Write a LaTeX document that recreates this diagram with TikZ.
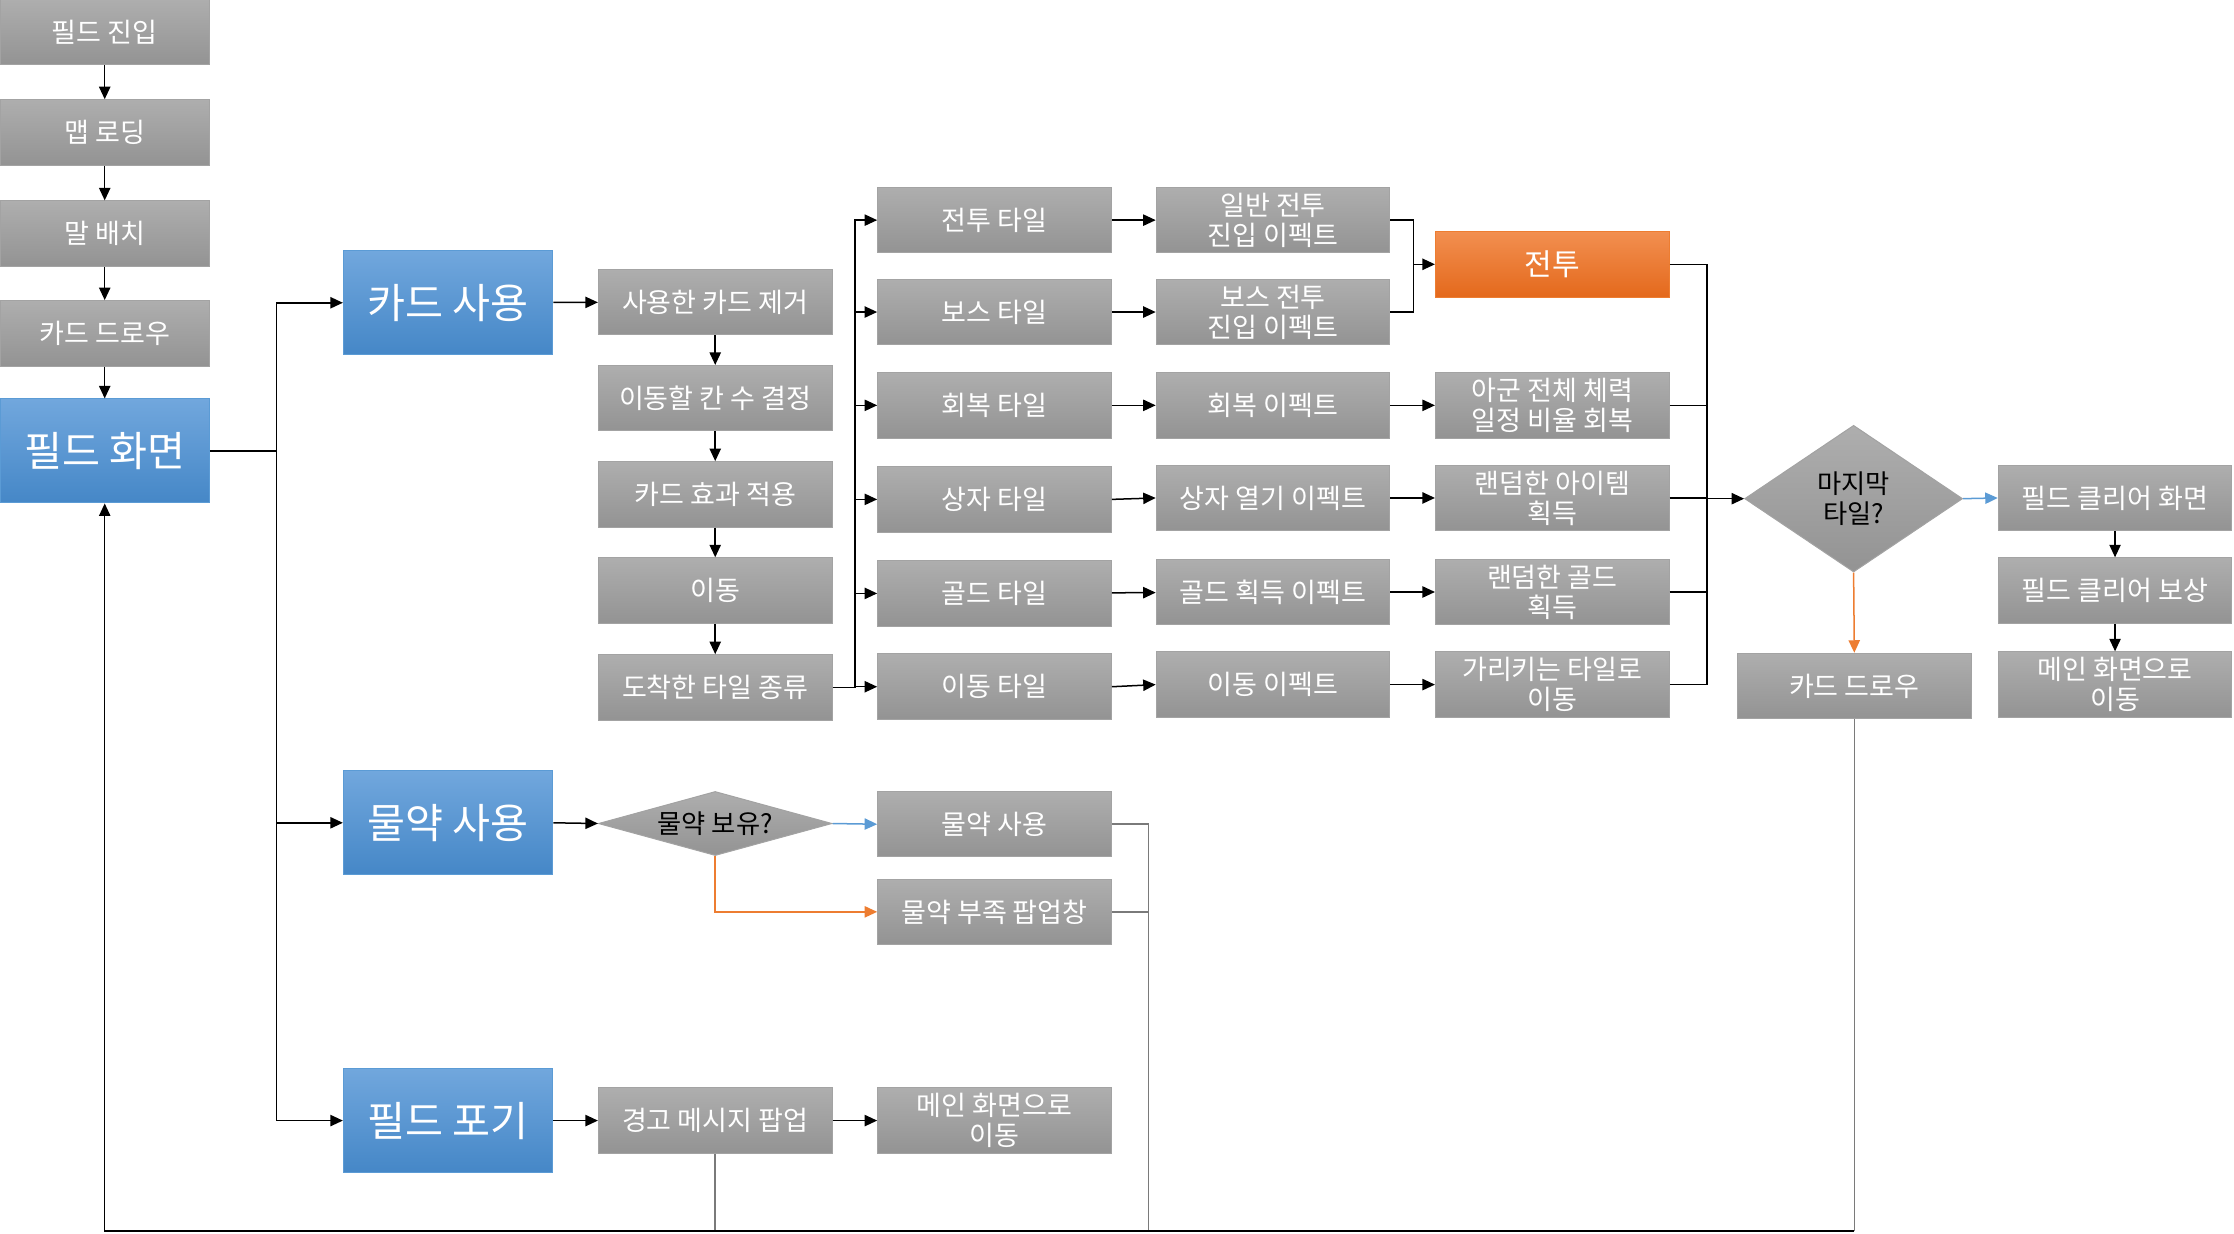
\documentclass[tikz,border=0pt]{standalone}
\usepackage{fontspec}
\newfontfamily\kr{Noto Sans CJK KR}
\usetikzlibrary{arrows.meta,shapes.geometric}
\definecolor{boxtop}{HTML}{AEAEAE}
\definecolor{boxbot}{HTML}{939393}
\definecolor{boxline}{HTML}{A3A3A3}
\definecolor{bluetop}{HTML}{71A7DD}
\definecolor{bluebot}{HTML}{4587C7}
\definecolor{blueline}{HTML}{5B9BD5}
\definecolor{orangetop}{HTML}{F28F50}
\definecolor{orangebot}{HTML}{E4691C}
\definecolor{orangeline}{HTML}{ED7D31}
\definecolor{backline}{HTML}{7A7A7A}
\tikzset{
	gbox/.style={rectangle, draw=boxline, top color=boxtop, bottom color=boxbot, text=white,
		minimum width=3.28cm, minimum height=0.92cm, inner sep=1pt, align=center,
		font=\kr\fontsize{10.8}{12}\selectfont},
	lbox/.style={gbox, minimum width=2.94cm},
	bbox/.style={gbox, draw=blueline, top color=bluetop, bottom color=bluebot,
		minimum width=2.94cm, minimum height=1.46cm, font=\kr\fontsize{16.5}{19}\selectfont},
	obox/.style={gbox, draw=orangeline, top color=orangetop, bottom color=orangebot,
		font=\kr\fontsize{12}{14}\selectfont},
	ask/.style={diamond, draw=boxline, top color=boxtop, bottom color=boxbot, text=black,
		inner sep=0pt, align=center, font=\kr\fontsize{10.5}{12}\selectfont},
	arr/.style={-{Triangle[length=5pt,width=4.5pt]}},
	link/.style={line width=0.6pt},
}
\begin{document}
\begin{tikzpicture}[x=0.02cm, y=-0.02cm]
	\useasboundingbox (0,0) rectangle (1568,866);
	% start column
	\node[lbox] (entry) at (73.5,22.5) {필드 진입};
	\node[lbox] (load) at (73.5,93) {맵 로딩};
	\node[lbox] (place) at (73.5,164) {말 배치};
	\node[lbox] (drawA) at (73.5,234) {카드 드로우};
	\node[bbox] (field) at (73.5,316.5) {필드 화면};
	% actions
	\node[bbox] (card) at (314.5,212.5) {카드 사용};
	\node[bbox] (potion) at (314.5,577.5) {물약 사용};
	\node[bbox] (giveup) at (314.5,786.5) {필드 포기};
	% card steps
	\node[gbox] (remove) at (502,212) {사용한 카드 제거};
	\node[gbox] (decide) at (502,279.5) {이동할 칸 수 결정};
	\node[gbox] (apply) at (502,347) {카드 효과 적용};
	\node[gbox] (move) at (502,414.5) {이동};
	\node[gbox] (arrive) at (502,482.5) {도착한 타일 종류};
	% tiles
	\node[gbox] (battleT) at (698,154.5) {전투 타일};
	\node[gbox] (bossT) at (698,219) {보스 타일};
	\node[gbox] (healT) at (698,284.5) {회복 타일};
	\node[gbox] (boxT) at (698,350.5) {상자 타일};
	\node[gbox] (goldT) at (698,416.5) {골드 타일};
	\node[gbox] (moveT) at (698,482) {이동 타일};
	% effects
	\node[gbox] (battleFx) at (893.5,154.5) {일반 전투\\진입 이펙트};
	\node[gbox] (bossFx) at (893.5,219) {보스 전투\\진입 이펙트};
	\node[gbox] (healFx) at (893.5,284.5) {회복 이펙트};
	\node[gbox] (boxFx) at (893.5,349.5) {상자 열기 이펙트};
	\node[gbox] (goldFx) at (893.5,415.5) {골드 획득 이펙트};
	\node[gbox] (moveFx) at (893.5,480.5) {이동 이펙트};
	% results
	\node[obox] (battle) at (1089.5,185.5) {전투};
	\node[gbox] (healR) at (1089.5,284.5) {아군 전체 체력\\일정 비율 회복};
	\node[gbox] (itemR) at (1089.5,349.5) {랜덤한 아이템\\획득};
	\node[gbox] (goldR) at (1089.5,415.5) {랜덤한 골드\\획득};
	\node[gbox] (moveR) at (1089.5,480.5) {가리키는 타일로\\이동};
	% end of turn
	\node[ask, minimum width=3.06cm, minimum height=2.06cm, shape aspect=1.49] (last) at (1301,350) {마지막\\타일?};
	\node[gbox] (clear) at (1484.5,349.5) {필드 클리어 화면};
	\node[gbox] (reward) at (1484.5,414.5) {필드 클리어 보상};
	\node[gbox] (mainR) at (1484.5,480.5) {메인 화면으로\\이동};
	\node[gbox] (drawB) at (1301.5,481.5) {카드 드로우};
	% potion / give up
	\node[ask, minimum width=3.28cm, minimum height=0.9cm, shape aspect=3.6] (has) at (502,578) {물약 보유?};
	\node[gbox] (usePotion) at (698,578.5) {물약 사용};
	\node[gbox] (lackPotion) at (698,640) {물약 부족 팝업창};
	\node[gbox] (warn) at (502,786.5) {경고 메시지 팝업};
	\node[gbox] (toMain) at (698,786.5) {메인 화면으로\\이동};
	% junctions
	\coordinate (bus1) at (194,316.5);
	\coordinate (bus2) at (600,482.5);
	\coordinate (bus3) at (992,185.5);
	\coordinate (bus4) at (1198,350);
	\coordinate (bus5) at (806,864);
	\coordinate (ret) at (73.5,864);

	\draw[link,arr] (entry) -- (load);
	\draw[link,arr] (load) -- (place);
	\draw[link,arr] (place) -- (drawA);
	\draw[link,arr] (drawA) -- (field);
	\draw[link] (field.east) -- (bus1);
	\draw[link,arr] (bus1) |- (card.west);
	\draw[link,arr] (bus1) |- (potion.west);
	\draw[link,arr] (bus1) |- (giveup.west);
	\draw[link,arr] (card) -- (remove);
	\draw[link,arr] (remove) -- (decide);
	\draw[link,arr] (decide) -- (apply);
	\draw[link,arr] (apply) -- (move);
	\draw[link,arr] (move) -- (arrive);
	\draw[link] (arrive.east) -- (bus2);
	\foreach \t in {battleT,bossT,healT,boxT,goldT,moveT}
		\draw[link,arr] (bus2) |- (\t.west);
	\draw[link,arr] (battleT) -- (battleFx);
	\draw[link,arr] (bossT) -- (bossFx);
	\draw[link,arr] (healT) -- (healFx);
	\draw[link,arr] (boxT.east) -- (boxFx.west);
	\draw[link,arr] (goldT) -- (goldFx);
	\draw[link,arr] (moveT.east) -- (moveFx.west);
	\draw[link] (battleFx.east) -| (bus3);
	\draw[link] (bossFx.east) -| (bus3);
	\draw[link,arr] (bus3) -- (battle.west);
	\draw[link,arr] (healFx) -- (healR);
	\draw[link,arr] (boxFx.east) -- (itemR.west);
	\draw[link,arr] (goldFx) -- (goldR);
	\draw[link,arr] (moveFx.east) -- (moveR.west);
	\foreach \r in {battle,healR,itemR,goldR,moveR}
		\draw[link] (\r.east) -| (bus4);
	\draw[link,arr] (bus4) -- (last.west);
	\draw[link,arr,blueline] (last.east) -- (clear.west);
	\draw[link,arr,orangeline] (last.south) -- (drawB.north);
	\draw[link,arr] (clear) -- (reward);
	\draw[link,arr] (reward) -- (mainR);
	\draw[link,arr] (potion.east) -- (has.west);
	\draw[link,arr,blueline] (has.east) -- (usePotion.west);
	\draw[link,arr,orangeline] (has.south) |- (lackPotion.west);
	\draw[link,arr] (giveup) -- (warn);
	\draw[link,arr] (warn) -- (toMain);
	% back to the field
	\draw[link,backline] (usePotion.east) -| (bus5);
	\draw[link,backline] (lackPotion.east) -| (bus5);
	\draw[link,backline] (warn.south) -- (warn.south |- ret);
	\draw[link,backline] (drawB.south) -- (drawB.south |- ret);
	\draw[link,arr] (drawB.south |- ret) -- (ret) -- (field.south);
\end{tikzpicture}
\end{document}
